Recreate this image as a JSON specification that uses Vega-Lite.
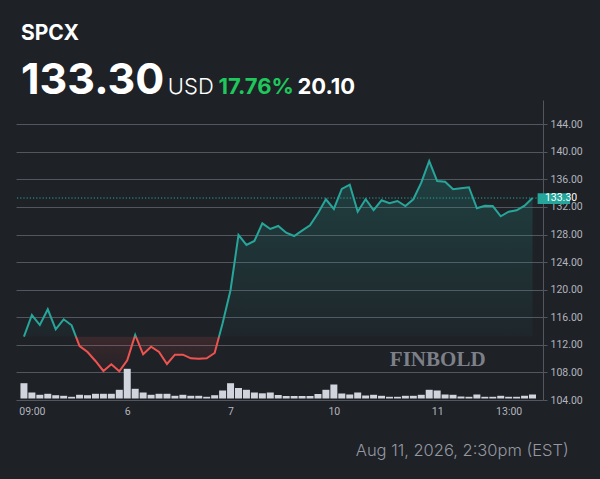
{
  "$schema": "https://vega.github.io/schema/vega-lite/v6.json",
  "width": 527,
  "height": 300,
  "autosize": {"type": "none"},
  "padding": {"left": 16, "top": 100, "right": 57, "bottom": 79},
  "background": "#1e2126",
  "config": {"view": {"stroke": null}},
  "data": {
    "values": [
      {"i": 0, "price": 113.20, "vol": 15.3},
      {"i": 1, "price": 116.33, "vol": 6},
      {"i": 2, "price": 114.88, "vol": 3.7},
      {"i": 3, "price": 117.16, "vol": 4.7},
      {"i": 4, "price": 114.26, "vol": 3.3},
      {"i": 5, "price": 115.71, "vol": 2.7},
      {"i": 6, "price": 114.84, "vol": 1.7},
      {"i": 7, "price": 111.83, "vol": 3.7},
      {"i": 8, "price": 110.96, "vol": 3.3},
      {"i": 9, "price": 109.66, "vol": 4.7},
      {"i": 10, "price": 108.21, "vol": 4.7},
      {"i": 11, "price": 109.18, "vol": 4.7},
      {"i": 12, "price": 108.16, "vol": 8.7},
      {"i": 13, "price": 109.76, "vol": 29.7},
      {"i": 14, "price": 113.45, "vol": 9.7},
      {"i": 15, "price": 110.63, "vol": 6},
      {"i": 16, "price": 111.73, "vol": 3.7},
      {"i": 17, "price": 110.96, "vol": 4.7},
      {"i": 18, "price": 109.22, "vol": 4.7},
      {"i": 19, "price": 110.57, "vol": 2.7},
      {"i": 20, "price": 110.57, "vol": 3.7},
      {"i": 21, "price": 110.05, "vol": 2.7},
      {"i": 22, "price": 109.99, "vol": 2.7},
      {"i": 23, "price": 110.05, "vol": 1.7},
      {"i": 24, "price": 110.82, "vol": 3.3},
      {"i": 25, "price": 115.13, "vol": 8},
      {"i": 26, "price": 119.96, "vol": 15.3},
      {"i": 27, "price": 127.94, "vol": 10.5},
      {"i": 28, "price": 126.49, "vol": 8.7},
      {"i": 29, "price": 127.07, "vol": 6},
      {"i": 30, "price": 129.63, "vol": 5.2},
      {"i": 31, "price": 128.81, "vol": 6},
      {"i": 32, "price": 129.24, "vol": 3.5},
      {"i": 33, "price": 128.27, "vol": 2.5},
      {"i": 34, "price": 127.79, "vol": 2.5},
      {"i": 35, "price": 128.56, "vol": 2.5},
      {"i": 36, "price": 129.34, "vol": 2.5},
      {"i": 37, "price": 131.09, "vol": 4.5},
      {"i": 38, "price": 133.12, "vol": 8.7},
      {"i": 39, "price": 131.71, "vol": 14},
      {"i": 40, "price": 134.61, "vol": 5},
      {"i": 41, "price": 135.24, "vol": 4},
      {"i": 42, "price": 131.32, "vol": 6},
      {"i": 43, "price": 133.12, "vol": 3},
      {"i": 44, "price": 131.56, "vol": 3.7},
      {"i": 45, "price": 132.97, "vol": 2.7},
      {"i": 46, "price": 132.54, "vol": 1.7},
      {"i": 47, "price": 132.87, "vol": 1.7},
      {"i": 48, "price": 132.14, "vol": 2.7},
      {"i": 49, "price": 133.12, "vol": 2.7},
      {"i": 50, "price": 135.53, "vol": 3.7},
      {"i": 51, "price": 138.67, "vol": 8.7},
      {"i": 52, "price": 135.77, "vol": 8},
      {"i": 53, "price": 135.67, "vol": 4},
      {"i": 54, "price": 134.57, "vol": 3.7},
      {"i": 55, "price": 134.71, "vol": 2},
      {"i": 56, "price": 134.86, "vol": 1.7},
      {"i": 57, "price": 131.81, "vol": 4},
      {"i": 58, "price": 132.19, "vol": 1.7},
      {"i": 59, "price": 132.14, "vol": 1.7},
      {"i": 60, "price": 130.65, "vol": 2.7},
      {"i": 61, "price": 131.32, "vol": 1.7},
      {"i": 62, "price": 131.52, "vol": 1.7},
      {"i": 63, "price": 132.19, "vol": 2.7},
      {"i": 64, "price": 133.30, "vol": 4}
    ]
  },
  "layer": [
    {
      "mark": {"type": "bar", "size": 7, "color": "#d1d4dc"},
      "encoding": {
        "x": {"field": "i", "type": "quantitative", "scale": {"domain": [-0.37, 64.69], "nice": false, "zero": false}, "axis": {"title": null}},
        "y": {"field": "vol", "type": "quantitative", "scale": {"domain": [-1.5, 298.5], "nice": false, "zero": false}, "axis": null}
      }
    },
    {
      "layer": [
        {
          "data": {"values": [{}]},
          "mark": {"type": "text", "text": "FINBOLD", "font": "Liberation Serif", "fontSize": 21, "fontWeight": "bold", "color": "#7d8088", "align": "center", "baseline": "middle"},
          "encoding": {
            "x": {"datum": 52.07, "type": "quantitative", "scale": {"domain": [-0.37, 64.69], "nice": false, "zero": false}, "axis": {"title": null}},
            "y": {"datum": 109.8, "type": "quantitative", "scale": {"domain": [104, 147.52], "nice": false, "zero": false},
              "axis": {"title": null, "orient": "right", "values": [104, 108, 112, 116, 120, 124, 128, 132, 136, 140, 144], "format": ".2f", "grid": true, "gridColor": "#52565e", "domainColor": "#52565e", "tickColor": "#52565e", "labelOverlap": false, "labelFlush": false, "tickSize": 4, "labelColor": "#b2b5be", "labelFont": "Roboto", "labelFontSize": 10.5, "labelPadding": 3}}
          }
        },
        {
          "mark": {
            "type": "area",
            "fill": {
              "gradient": "linear", "x1": 0, "y1": 0, "x2": 0, "y2": 1,
              "stops": [
                {"offset": 0, "color": "rgba(38,166,154,0.24)"},
                {"offset": 0.8348, "color": "rgba(38,166,154,0.04)"},
                {"offset": 0.8348, "color": "rgba(239,83,80,0.14)"},
                {"offset": 1, "color": "rgba(239,83,80,0.03)"}
              ]
            }
          },
          "encoding": {
            "x": {"field": "i", "type": "quantitative", "scale": {"domain": [-0.37, 64.69], "nice": false, "zero": false}, "axis": {"title": null}},
            "y": {"field": "price", "type": "quantitative", "scale": {"domain": [104, 147.52], "nice": false, "zero": false},
              "axis": {"title": null, "orient": "right", "values": [104, 108, 112, 116, 120, 124, 128, 132, 136, 140, 144], "format": ".2f", "grid": true, "gridColor": "#52565e", "domainColor": "#52565e", "tickColor": "#52565e", "labelOverlap": false, "labelFlush": false, "tickSize": 4, "labelColor": "#b2b5be", "labelFont": "Roboto", "labelFontSize": 10.5, "labelPadding": 3}},
            "y2": {"datum": 113.2}
          }
        },
        {
          "data": {"values": [{}]},
          "mark": {"type": "rule", "color": "#26a69a", "strokeWidth": 1, "strokeDash": [1.2, 2]},
          "encoding": {
            "y": {"datum": 133.3, "type": "quantitative", "scale": {"domain": [104, 147.52], "nice": false, "zero": false},
              "axis": {"title": null, "orient": "right", "values": [104, 108, 112, 116, 120, 124, 128, 132, 136, 140, 144], "format": ".2f", "grid": true, "gridColor": "#52565e", "domainColor": "#52565e", "tickColor": "#52565e", "labelOverlap": false, "labelFlush": false, "tickSize": 4, "labelColor": "#b2b5be", "labelFont": "Roboto", "labelFontSize": 10.5, "labelPadding": 3}}
          }
        },
        {
          "mark": {
            "type": "line",
            "strokeWidth": 2,
            "stroke": {
              "gradient": "linear", "x1": 0, "y1": 0, "x2": 0, "y2": 1,
              "stops": [
                {"offset": 0, "color": "#26a69a"},
                {"offset": 0.8348, "color": "#26a69a"},
                {"offset": 0.8348, "color": "#ef5350"},
                {"offset": 1, "color": "#ef5350"}
              ]
            }
          },
          "encoding": {
            "x": {
              "field": "i", "type": "quantitative",
              "scale": {"domain": [-0.37, 64.69], "nice": false, "zero": false},
              "axis": {
                "title": null, "values": [1, 13, 26, 39, 52, 61],
                "labelExpr": "datum.value == 1 ? '09:00' : datum.value == 13 ? '6' : datum.value == 26 ? '7' : datum.value == 39 ? '10' : datum.value == 52 ? '11' : '13:00'",
                "grid": false, "domain": false, "ticks": false, "labelFlush": false, "labelOverlap": false,
                "labelColor": "#b2b5be", "labelFont": "Roboto", "labelFontSize": 10.5, "labelPadding": 6
              }
            },
            "y": {"field": "price", "type": "quantitative", "scale": {"domain": [104, 147.52], "nice": false, "zero": false},
              "axis": {"title": null, "orient": "right", "values": [104, 108, 112, 116, 120, 124, 128, 132, 136, 140, 144], "format": ".2f", "grid": true, "gridColor": "#52565e", "domainColor": "#52565e", "tickColor": "#52565e", "labelOverlap": false, "labelFlush": false, "tickSize": 4, "labelColor": "#b2b5be", "labelFont": "Roboto", "labelFontSize": 10.5, "labelPadding": 3}}
          }
        },
        {
          "data": {"values": [{}]},
          "mark": {"type": "rect", "color": "#26a69a"},
          "encoding": {
            "x": {"datum": 64.64, "type": "quantitative", "scale": {"domain": [-0.37, 64.69], "nice": false, "zero": false}, "axis": {"title": null}},
            "x2": {"datum": 68.73},
            "y": {"datum": 133.99, "type": "quantitative", "scale": {"domain": [104, 147.52], "nice": false, "zero": false},
              "axis": {"title": null, "orient": "right", "values": [104, 108, 112, 116, 120, 124, 128, 132, 136, 140, 144], "format": ".2f", "grid": true, "gridColor": "#52565e", "domainColor": "#52565e", "tickColor": "#52565e", "labelOverlap": false, "labelFlush": false, "tickSize": 4, "labelColor": "#b2b5be", "labelFont": "Roboto", "labelFontSize": 10.5, "labelPadding": 3}},
            "y2": {"datum": 132.43}
          }
        },
        {
          "data": {"values": [{}]},
          "mark": {"type": "text", "text": "133.30", "font": "Roboto", "fontSize": 10.5, "color": "#ffffff", "align": "left", "baseline": "middle"},
          "encoding": {
            "x": {"datum": 65.56, "type": "quantitative", "scale": {"domain": [-0.37, 64.69], "nice": false, "zero": false}, "axis": {"title": null}},
            "y": {"datum": 133.25, "type": "quantitative", "scale": {"domain": [104, 147.52], "nice": false, "zero": false},
              "axis": {"title": null, "orient": "right", "values": [104, 108, 112, 116, 120, 124, 128, 132, 136, 140, 144], "format": ".2f", "grid": true, "gridColor": "#52565e", "domainColor": "#52565e", "tickColor": "#52565e", "labelOverlap": false, "labelFlush": false, "tickSize": 4, "labelColor": "#b2b5be", "labelFont": "Roboto", "labelFontSize": 10.5, "labelPadding": 3}}
          }
        },
        {
          "data": {"values": [{}]},
          "mark": {"type": "text", "text": "SPCX", "font": "Inter", "fontSize": 21, "fontWeight": "bold", "color": "#ffffff", "align": "left", "baseline": "alphabetic"},
          "encoding": {
            "x": {"datum": -0.37, "type": "quantitative", "scale": {"domain": [-0.37, 64.69], "nice": false, "zero": false}, "axis": {"title": null}},
            "y": {"datum": 156.23, "type": "quantitative", "scale": {"domain": [104, 147.52], "nice": false, "zero": false},
              "axis": {"title": null, "orient": "right", "values": [104, 108, 112, 116, 120, 124, 128, 132, 136, 140, 144], "format": ".2f", "grid": true, "gridColor": "#52565e", "domainColor": "#52565e", "tickColor": "#52565e", "labelOverlap": false, "labelFlush": false, "tickSize": 4, "labelColor": "#b2b5be", "labelFont": "Roboto", "labelFontSize": 10.5, "labelPadding": 3}}
          }
        },
        {
          "data": {"values": [{}]},
          "mark": {"type": "text", "text": "133.30", "font": "Inter", "fontSize": 43, "fontWeight": "bold", "color": "#ffffff", "align": "left", "baseline": "alphabetic"},
          "encoding": {
            "x": {"datum": -0.37, "type": "quantitative", "scale": {"domain": [-0.37, 64.69], "nice": false, "zero": false}, "axis": {"title": null}},
            "y": {"datum": 148.39, "type": "quantitative", "scale": {"domain": [104, 147.52], "nice": false, "zero": false},
              "axis": {"title": null, "orient": "right", "values": [104, 108, 112, 116, 120, 124, 128, 132, 136, 140, 144], "format": ".2f", "grid": true, "gridColor": "#52565e", "domainColor": "#52565e", "tickColor": "#52565e", "labelOverlap": false, "labelFlush": false, "tickSize": 4, "labelColor": "#b2b5be", "labelFont": "Roboto", "labelFontSize": 10.5, "labelPadding": 3}}
          }
        },
        {
          "data": {"values": [{}]},
          "mark": {"type": "text", "text": "USD", "font": "Inter", "fontSize": 22, "fontWeight": 300, "color": "#ffffff", "align": "left", "baseline": "alphabetic"},
          "encoding": {
            "x": {"datum": 18.11, "type": "quantitative", "scale": {"domain": [-0.37, 64.69], "nice": false, "zero": false}, "axis": {"title": null}},
            "y": {"datum": 148.46, "type": "quantitative", "scale": {"domain": [104, 147.52], "nice": false, "zero": false},
              "axis": {"title": null, "orient": "right", "values": [104, 108, 112, 116, 120, 124, 128, 132, 136, 140, 144], "format": ".2f", "grid": true, "gridColor": "#52565e", "domainColor": "#52565e", "tickColor": "#52565e", "labelOverlap": false, "labelFlush": false, "tickSize": 4, "labelColor": "#b2b5be", "labelFont": "Roboto", "labelFontSize": 10.5, "labelPadding": 3}}
          }
        },
        {
          "data": {"values": [{}]},
          "mark": {"type": "text", "text": "17.76%", "font": "Inter", "fontSize": 22, "fontWeight": "bold", "color": "#1fc75c", "align": "left", "baseline": "alphabetic"},
          "encoding": {
            "x": {"datum": 24.48, "type": "quantitative", "scale": {"domain": [-0.37, 64.69], "nice": false, "zero": false}, "axis": {"title": null}},
            "y": {"datum": 148.46, "type": "quantitative", "scale": {"domain": [104, 147.52], "nice": false, "zero": false},
              "axis": {"title": null, "orient": "right", "values": [104, 108, 112, 116, 120, 124, 128, 132, 136, 140, 144], "format": ".2f", "grid": true, "gridColor": "#52565e", "domainColor": "#52565e", "tickColor": "#52565e", "labelOverlap": false, "labelFlush": false, "tickSize": 4, "labelColor": "#b2b5be", "labelFont": "Roboto", "labelFontSize": 10.5, "labelPadding": 3}}
          }
        },
        {
          "data": {"values": [{}]},
          "mark": {"type": "text", "text": "20.10", "font": "Inter", "fontSize": 22, "fontWeight": "bold", "color": "#ffffff", "align": "left", "baseline": "alphabetic"},
          "encoding": {
            "x": {"datum": 34.41, "type": "quantitative", "scale": {"domain": [-0.37, 64.69], "nice": false, "zero": false}, "axis": {"title": null}},
            "y": {"datum": 148.46, "type": "quantitative", "scale": {"domain": [104, 147.52], "nice": false, "zero": false},
              "axis": {"title": null, "orient": "right", "values": [104, 108, 112, 116, 120, 124, 128, 132, 136, 140, 144], "format": ".2f", "grid": true, "gridColor": "#52565e", "domainColor": "#52565e", "tickColor": "#52565e", "labelOverlap": false, "labelFlush": false, "tickSize": 4, "labelColor": "#b2b5be", "labelFont": "Roboto", "labelFontSize": 10.5, "labelPadding": 3}}
          }
        },
        {
          "data": {"values": [{}]},
          "mark": {"type": "text", "text": "Aug 11, 2026, 2:30pm (EST)", "font": "Inter", "fontSize": 16.5, "fontWeight": 300, "color": "#9598a1", "align": "right", "baseline": "alphabetic"},
          "encoding": {
            "x": {"datum": 68.56, "type": "quantitative", "scale": {"domain": [-0.37, 64.69], "nice": false, "zero": false}, "axis": {"title": null}},
            "y": {"datum": 95.88, "type": "quantitative", "scale": {"domain": [104, 147.52], "nice": false, "zero": false},
              "axis": {"title": null, "orient": "right", "values": [104, 108, 112, 116, 120, 124, 128, 132, 136, 140, 144], "format": ".2f", "grid": true, "gridColor": "#52565e", "domainColor": "#52565e", "tickColor": "#52565e", "labelOverlap": false, "labelFlush": false, "tickSize": 4, "labelColor": "#b2b5be", "labelFont": "Roboto", "labelFontSize": 10.5, "labelPadding": 3}}
          }
        }
      ]
    }
  ],
  "resolve": {"scale": {"y": "independent"}}
}
